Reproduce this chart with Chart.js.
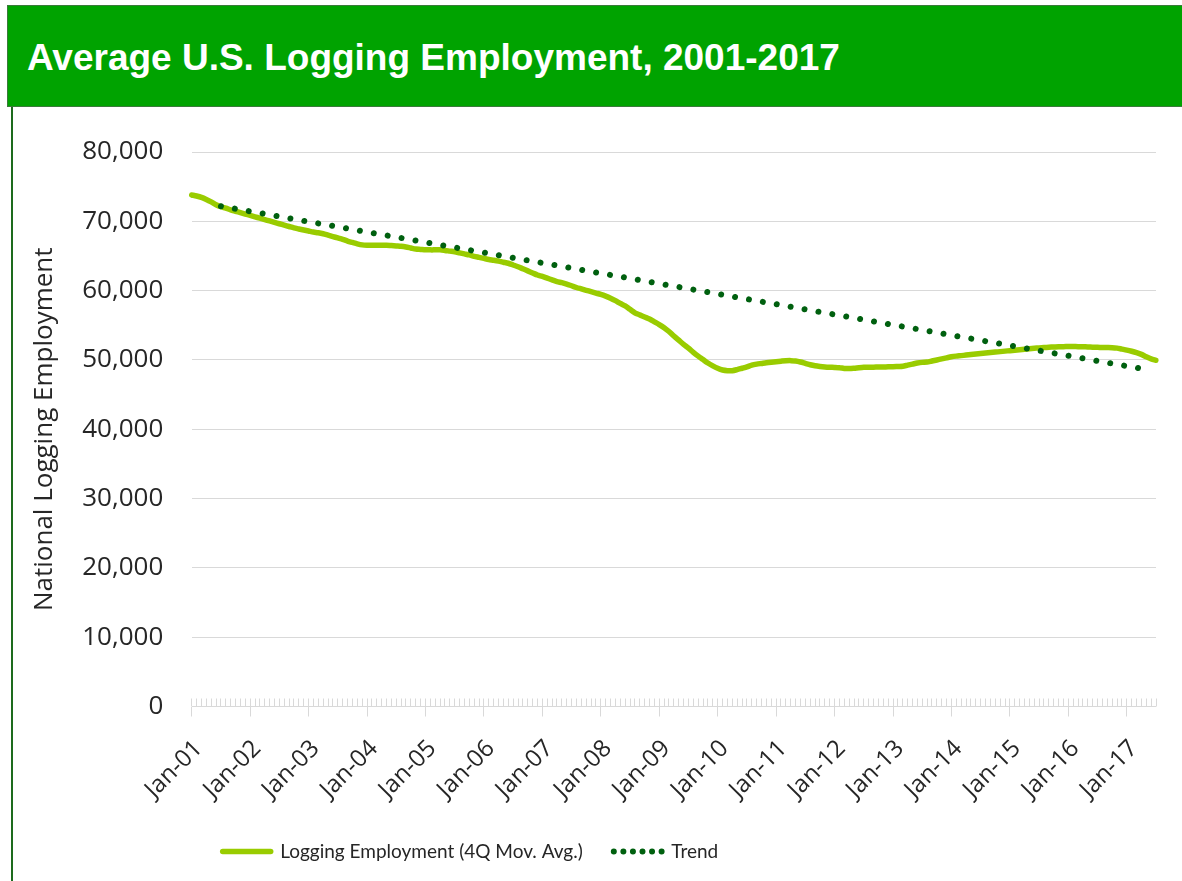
<!DOCTYPE html>
<html>
<head>
<meta charset="utf-8">
<script src="https://cdn.jsdelivr.net/npm/chart.js@4.4.1/dist/chart.umd.min.js"></script>
<style>
  html, body { margin: 0; padding: 0; background: #ffffff; width: 1182px; height: 881px; overflow: hidden; position: relative; }
  #header { position: absolute; left: 7px; top: 5px; width: 1180px; height: 100px; background: #00a300; border: 1px solid #3b7a3b; }
  #title { position: absolute; left: 27px; top: 37.6px; line-height: 40px; font-family: "Liberation Sans", Arial, sans-serif; font-weight: bold; font-size: 37px; color: #ffffff; white-space: nowrap; }
  #leftline { position: absolute; left: 11px; top: 107px; width: 2px; height: 774px; background: #1d6b1d; }
  #wrap { position: absolute; left: 14px; top: 108px; width: 1168px; height: 773px; }
</style>
</head>
<body>
<div id="header"></div>
<div id="title">Average U.S. Logging Employment, 2001-2017</div>
<div id="leftline"></div>
<div id="wrap"><canvas id="c" width="1168" height="773"></canvas></div>
<script>
// ---- categories ----
const months = ['Jan','Feb','Mar','Apr','May','Jun','Jul','Aug','Sep','Oct','Nov','Dec'];
const years = ['01','02','03','04','05','06','07','08','09','10','11','12','13','14','15','16','17'];
const lastYearMonths = 7; // Jan-17 .. Jul-17

// ---- series: Logging Employment (4Q Mov. Avg.), monthly ----
const emp2001 = [73800,73650,73450,73150,72800,72400,72100,71900,71650,71450,71250,71050];
const emp2002 = [70850,70650,70450,70250,70050,69850,69650,69450,69250,69050,68900,68750];
const emp2003 = [68600,68450,68350,68200,68000,67800,67600,67400,67150,66950,66750,66600];
const emp2004 = [66550,66550,66550,66550,66550,66500,66450,66400,66300,66150,66000,65950];
const emp2005 = [65900,65880,65880,65880,65800,65700,65600,65450,65300,65150,64950,64800];
const emp2006 = [64650,64500,64380,64250,64100,63950,63700,63450,63150,62850,62550,62250];
const emp2007 = [62050,61800,61550,61300,61150,60950,60700,60450,60250,60050,59850,59650];
const emp2008 = [59450,59200,58900,58550,58150,57800,57300,56800,56500,56200,55900,55500];
const emp2009 = [55100,54650,54100,53450,52850,52250,51700,51100,50550,50050,49550,49150];
const emp2010 = [48800,48550,48450,48450,48600,48800,49000,49250,49400,49500,49600,49680];
const emp2011 = [49750,49820,49880,49900,49850,49700,49500,49300,49150,49050,48980,48940];
const emp2012 = [48920,48880,48780,48750,48800,48880,48940,48950,48960,48970,48980,49000];
const emp2013 = [49020,49060,49100,49250,49400,49550,49650,49700,49850,50000,50150,50300];
const emp2014 = [50450,50550,50620,50700,50780,50860,50930,51000,51070,51130,51200,51270];
const emp2015 = [51340,51400,51470,51550,51620,51680,51730,51780,51830,51870,51910,51920];
const emp2016 = [51930,51930,51920,51900,51870,51840,51820,51800,51790,51770,51700,51560];
const emp2017 = [51420,51250,51050,50800,50450,50150,49950];

// ---- series: Trend (straight line, end points) ----
const trendPoints = [['Jul-01', 72180], ['Apr-17', 48740]];

// ---- y tick values ----
const yTicks = [0,10000,20000,30000,40000,50000,60000,70000,80000];

// build category labels
const labels = [];
years.forEach((y, yi) => {
  const n = (yi === years.length - 1) ? lastYearMonths : 12;
  for (let m = 0; m < n; m++) labels.push(months[m] + '-' + y);
});
const employment = [].concat(emp2001,emp2002,emp2003,emp2004,emp2005,emp2006,emp2007,emp2008,
  emp2009,emp2010,emp2011,emp2012,emp2013,emp2014,emp2015,emp2016,emp2017);
const trendData = trendPoints.map(p => ({x: p[0], y: p[1]}));

const FONT = "'Open Sans', 'Noto Sans', sans-serif";
const LEG_FONT = "Lato, 'Open Sans', sans-serif";
const GRID = '#d9d9d9';
const LINE_GREEN = '#99cc00';
const TREND_GREEN = '#00600f';
const TEXT = '#262626';

const isJan = (i) => labels[i] && labels[i].startsWith('Jan');

new Chart(document.getElementById('c'), {
  type: 'line',
  data: {
    labels: labels,
    datasets: [
      {
        label: 'Logging Employment (4Q Mov. Avg.)',
        data: employment,
        borderColor: LINE_GREEN,
        backgroundColor: LINE_GREEN,
        borderWidth: 5.5,
        pointRadius: 0,
        tension: 0.3,
        borderCapStyle: 'round',
        borderJoinStyle: 'round',
        order: 2
      },
      {
        label: 'Trend',
        data: trendData,
        borderColor: TREND_GREEN,
        backgroundColor: TREND_GREEN,
        borderWidth: 6,
        borderDash: [0.01, 14.1],
        borderCapStyle: 'round',
        pointRadius: 0,
        spanGaps: true,
        tension: 0,
        order: 1
      }
    ]
  },
  options: {
    responsive: false,
    animation: false,
    devicePixelRatio: 1,
    layout: { padding: { top: 34.3, right: 26, left: 0, bottom: 10 } },
    plugins: {
      tooltip: { enabled: false },
      legend: {
        display: true,
        position: 'bottom',
        align: 'start',
        fullSize: false,
        labels: {
          usePointStyle: true,
          pointStyleWidth: 48,
          boxHeight: 19,
          padding: 31,
          color: TEXT,
          font: { family: LEG_FONT, size: 19 },
          sort: (a, b) => a.datasetIndex - b.datasetIndex,
          generateLabels: (chart) => {
            const items = Chart.defaults.plugins.legend.labels.generateLabels(chart);
            items.forEach((it) => {
              it.pointStyle = 'line';
              it.lineCap = 'round';
              if (it.datasetIndex === 0) { it.lineWidth = 5.5; it.strokeStyle = LINE_GREEN; it.lineDash = []; }
              else { it.lineWidth = 6; it.strokeStyle = TREND_GREEN; it.lineDash = [0.01, 9.55]; }
            });
            return items;
          }
        }
      }
    },
    scales: {
      x: {
        type: 'category',
        offset: false,
        border: {
          display: false,
          dash: (ctx) => {
            const a = ctx.chart.chartArea;
            const L = a ? (a.bottom - a.top) : 563.2;
            return [0, L - 8, 8, 0];
          }
        },
        grid: {
          display: true,
          drawOnChartArea: true,
          color: GRID,
          lineWidth: 1,
          tickLength: 10,
          tickColor: (ctx) => isJan(ctx.index) ? GRID : 'rgba(0,0,0,0)',
          tickBorderDash: [1, 0],
          tickWidth: 1
        },
        ticks: {
          autoSkip: false,
          maxRotation: 45,
          minRotation: 45,
          padding: 18,
          labelOffset: 7,
          color: TEXT,
          font: { family: FONT, size: 24 },
          callback: (v, i) => isJan(i) ? labels[i] : ''
        },
        afterFit: (s) => { s.height = 104.5; s.paddingLeft = 0; s.paddingRight = 0; }
      },
      y: {
        type: 'linear',
        min: 0,
        max: 80000,
        border: { display: false },
        grid: { color: GRID, lineWidth: 1, drawTicks: false },
        afterBuildTicks: (s) => { s.ticks = yTicks.map(v => ({value: v})); },
        ticks: {
          padding: 28.4,
          color: TEXT,
          font: { family: FONT, size: 26 },
          callback: (v) => v.toLocaleString('en-US')
        },
        title: {
          display: true,
          text: 'National Logging Employment',
          color: TEXT,
          font: { family: FONT, size: 26 },
          padding: { top: 15, bottom: 0 }
        },
        afterFit: (s) => { s.width = 177.7; }
      }
    }
  }
});
</script>
</body>
</html>
